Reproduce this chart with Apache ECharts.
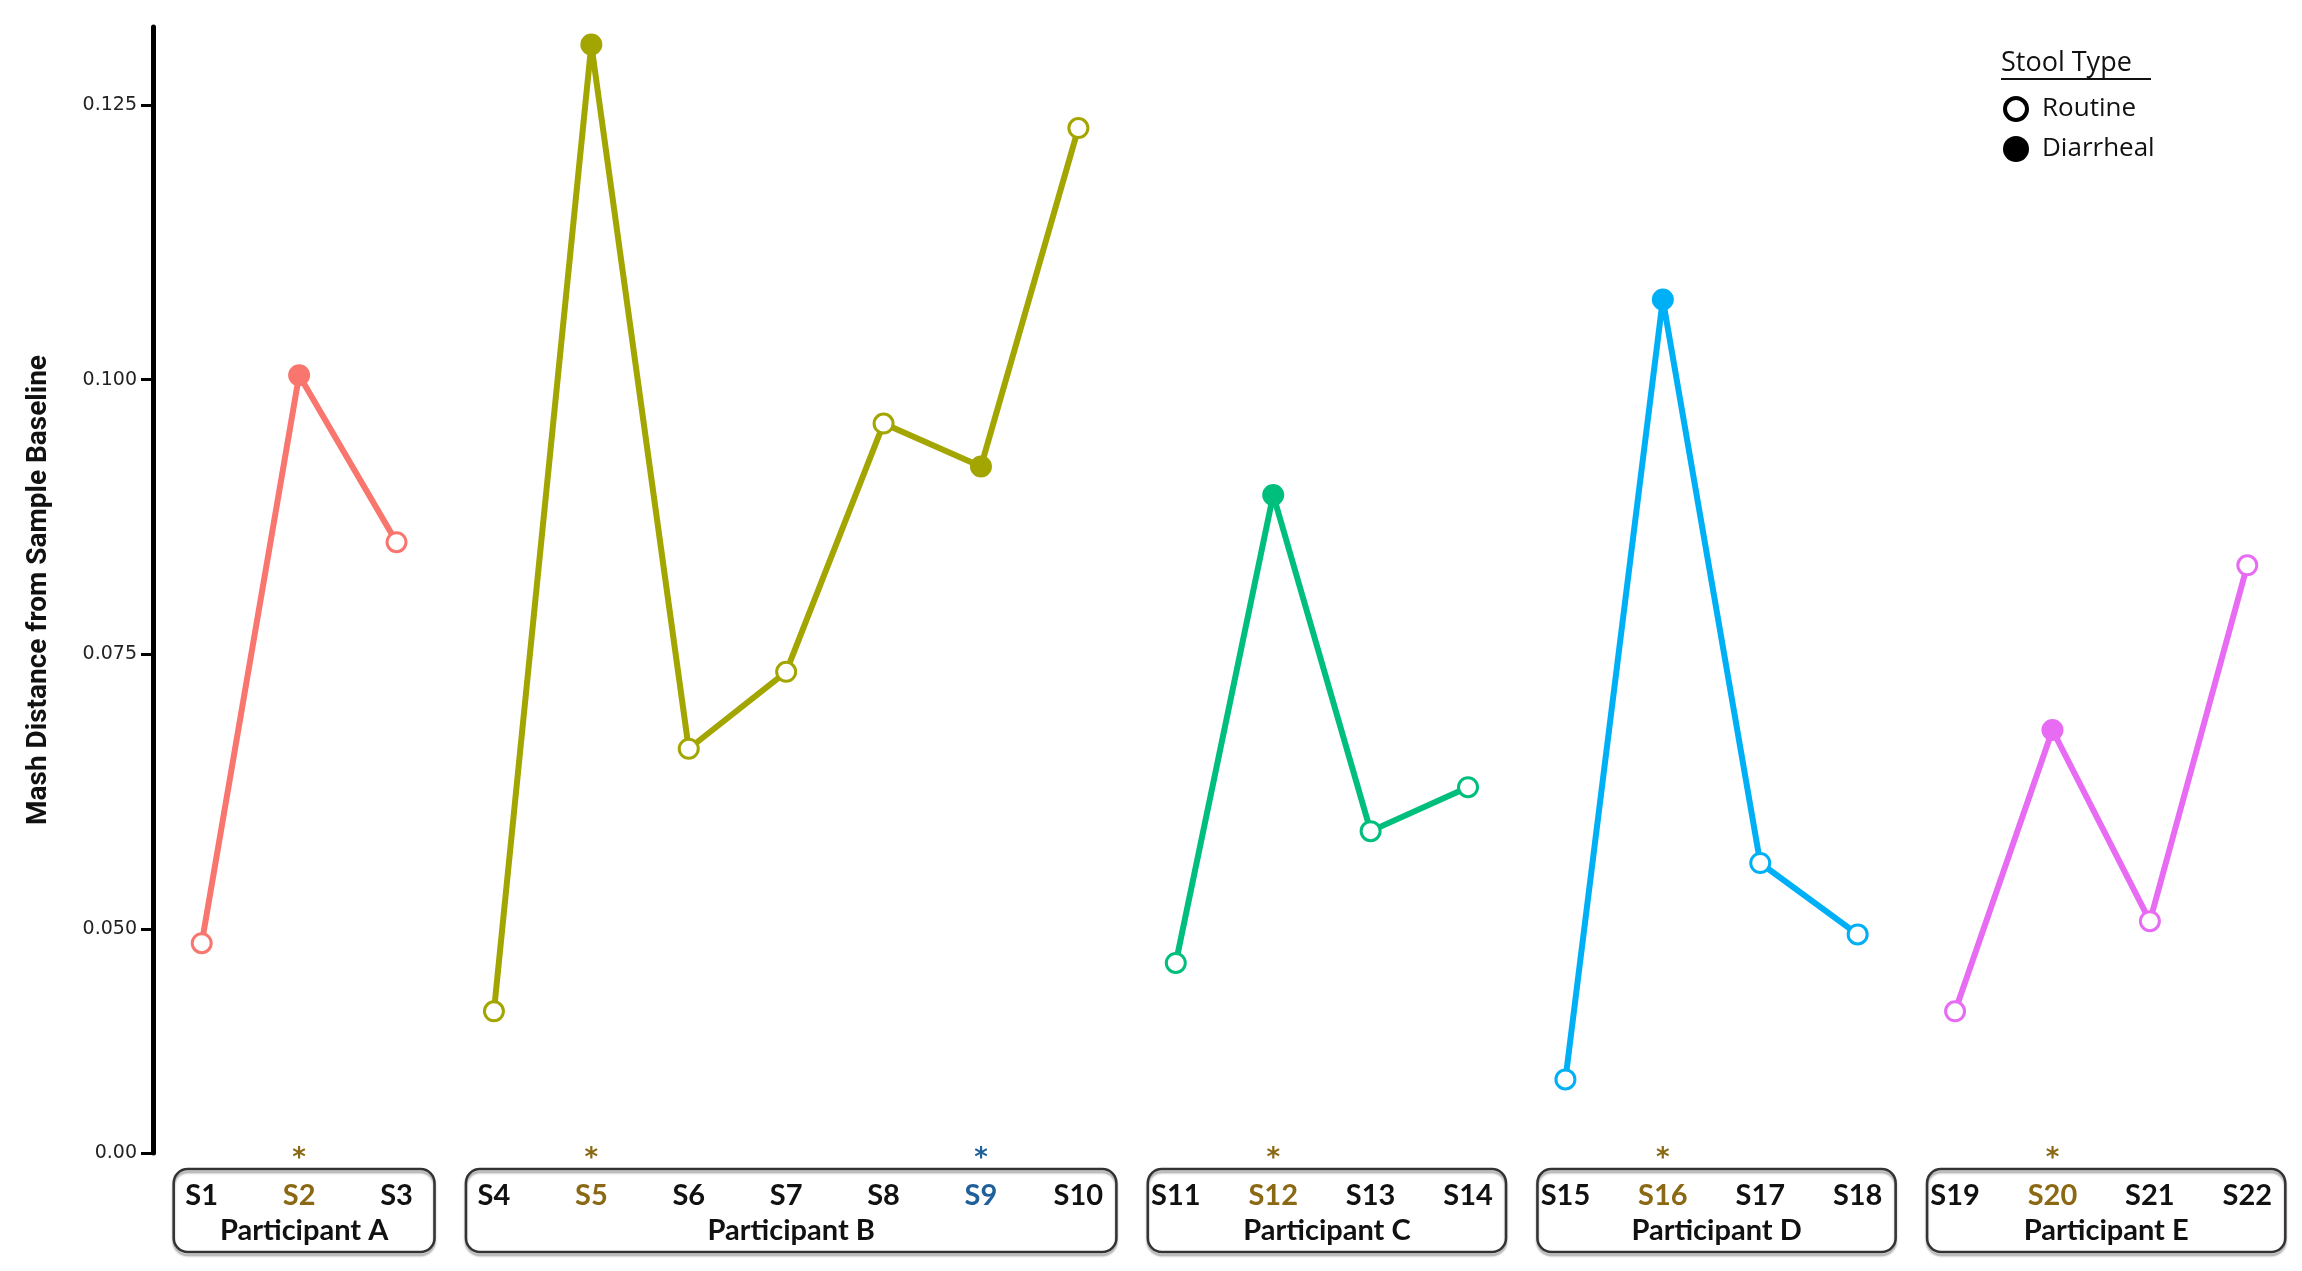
<!DOCTYPE html>
<html><head><meta charset="utf-8">
<script src="https://cdn.jsdelivr.net/npm/echarts@6/dist/echarts.min.js"></script>
<style>html,body{margin:0;padding:0;background:#fff}#c{width:2302px;height:1271px}</style>
</head><body><div id="c"></div>
<script>
const categories = ['S1','S2','S3','S4','S5','S6','S7','S8','S9','S10','S11','S12','S13','S14','S15','S16','S17','S18','S19','S20','S21','S22'];
const participants = ['Participant A','Participant B','Participant C','Participant D','Participant E'];
const groupSamples = [['S1','S2','S3'],['S4','S5','S6','S7','S8','S9','S10'],['S11','S12','S13','S14'],['S15','S16','S17','S18'],['S19','S20','S21','S22']];
const valuesA = [0.0487,0.1004,0.0852];
const valuesB = [0.0425,0.1305,0.0664,0.0734,0.0960,0.0921,0.1229];
const valuesC = [0.0469,0.0895,0.0589,0.0629];
const valuesD = [0.0363,0.1073,0.0560,0.0495];
const valuesE = [0.0425,0.0681,0.0507,0.0831];
const diarrheal = ['S2','S5','S9','S12','S16','S20'];
const goldStar = ['S2','S5','S12','S16','S20'];
const blueStar = ['S9'];
const yTicks = [0.0296,0.05,0.075,0.1,0.125];
const yMin = 0.0296, yMax = 0.1321;

const colors = ['#F8766D','#A3A500','#00BF7D','#00B0F6','#E76BF3'];
const groupValues = [valuesA,valuesB,valuesC,valuesD,valuesE];

const series = groupValues.map((vals,gi)=>({
  type:'line', name:participants[gi],
  data: groupSamples[gi].map((s,i)=>({value:[s,vals[i]],
     itemStyle:{color: diarrheal.includes(s)?colors[gi]:'#fff', borderColor:colors[gi], borderWidth:3}})),
  symbol:'circle', symbolSize:19, showAllSymbol:true,
  lineStyle:{color:colors[gi], width:6}, itemStyle:{color:colors[gi]}, z:3, animation:false
}));

const chart = echarts.init(document.getElementById('c'));
chart.setOption({
  animation:false,
  grid:{left:153,right:6,top:27,bottom:118,containLabel:false},
  xAxis:{type:'category',data:categories,boundaryGap:true,
    axisLine:{show:false},axisTick:{show:false},
    axisLabel:{interval:0,margin:28,fontSize:29,fontWeight:'bold',fontFamily:'Lato',
      formatter:v=> goldStar.includes(v)?'{g|'+v+'}':blueStar.includes(v)?'{b|'+v+'}':'{k|'+v+'}',
      rich:{g:{color:'#8B6914',fontSize:29,fontWeight:'bold',fontFamily:'Lato'},
            b:{color:'#1F5F9A',fontSize:29,fontWeight:'bold',fontFamily:'Lato'},
            k:{color:'#111',fontSize:29,fontWeight:'bold',fontFamily:'Lato'}}}},
  yAxis:{type:'value',min:yMin,max:yMax,
    name:'Mash Distance from Sample Baseline',nameLocation:'middle',nameGap:100,
    nameTextStyle:{fontSize:28,fontWeight:'bold',fontFamily:'Roboto',color:'#111'},
    splitLine:{show:false},
    axisLine:{show:true,lineStyle:{color:'#000',width:5}},
    axisTick:{show:true,length:12,lineStyle:{color:'#000',width:3},customValues:yTicks},
    axisLabel:{fontSize:19,color:'#222',fontFamily:'DejaVu Sans',margin:16,customValues:yTicks,
      formatter:v=> v<0.04?'0.00':v.toFixed(3)}},
  series
});

const g = [];
const baseY = chart.convertToPixel({yAxisIndex:0}, yMin);
groupSamples.forEach((gs,gi)=>{
  const x0 = chart.convertToPixel({xAxisIndex:0}, gs[0]);
  const x1 = chart.convertToPixel({xAxisIndex:0}, gs[gs.length-1]);
  g.push({type:'rect',shape:{x:x0-28,y:baseY+16,width:(x1-x0)+66,height:83,r:14},
    style:{fill:'none',stroke:'#333',lineWidth:2.5,shadowColor:'rgba(0,0,0,0.35)',shadowOffsetY:3,shadowBlur:2}});
  g.push({type:'text',x:(x0+x1)/2+5,y:baseY+78,style:{text:participants[gi],font:'bold 29px Lato',fill:'#111',align:'center',verticalAlign:'middle'}});
});
goldStar.concat(blueStar).forEach(s=>{
  const x = chart.convertToPixel({xAxisIndex:0}, s);
  g.push({type:'text',x:x,y:baseY+6,style:{text:'*',font:'bold 26px DejaVu Sans',fill: blueStar.includes(s)?'#1F5F9A':'#8B6914',align:'center',verticalAlign:'middle'}});
});
g.push({type:'text',x:2001,y:63,style:{text:'Stool Type',font:'27px "Open Sans"',fill:'#111',verticalAlign:'middle'}});
g.push({type:'line',shape:{x1:2001,y1:79,x2:2151,y2:79},style:{stroke:'#111',lineWidth:2}});
g.push({type:'circle',shape:{cx:2016,cy:109,r:11},style:{fill:'#fff',stroke:'#000',lineWidth:4}});
g.push({type:'text',x:2042,y:109,style:{text:'Routine',font:'26px "Open Sans"',fill:'#111',verticalAlign:'middle'}});
g.push({type:'circle',shape:{cx:2016,cy:149,r:13},style:{fill:'#000'}});
g.push({type:'text',x:2042,y:149,style:{text:'Diarrheal',font:'26px "Open Sans"',fill:'#111',verticalAlign:'middle'}});
chart.setOption({graphic:g});
</script></body></html>
